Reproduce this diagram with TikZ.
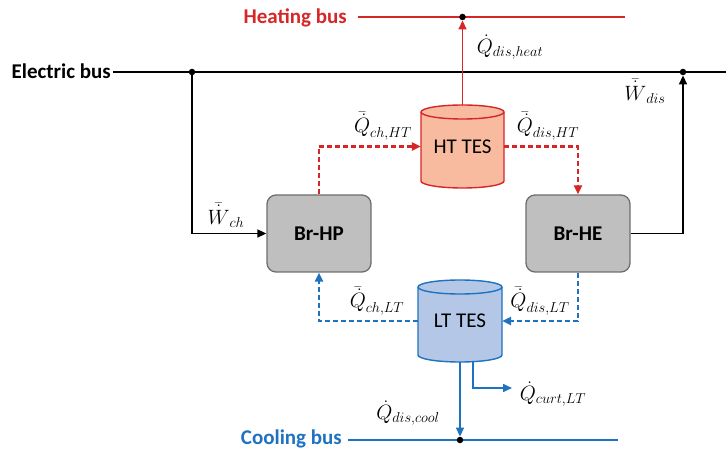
\documentclass[tikz,border=0pt]{standalone}
\usepackage{fontspec}
\setmainfont{Carlito}
\usetikzlibrary{arrows.meta}

\definecolor{heatred}{RGB}{214,39,40}
\definecolor{htfill}{RGB}{248,187,160}
\definecolor{coolblue}{RGB}{31,114,192}
\definecolor{ltfill}{RGB}{180,199,231}
\definecolor{unitfill}{RGB}{191,191,191}
\definecolor{unitedge}{RGB}{110,110,110}

\begin{document}
\begin{tikzpicture}[x=1pt,y=-1pt,
  busline/.style={line width=1.8pt},
  flow/.style={line width=1.6pt,-{Triangle[length=9pt,width=8pt]}},
  dflow/.style={line width=2.2pt,dash pattern=on 5pt off 3pt,-{Triangle[length=9pt,width=8pt]}},
  junction/.style={circle,fill=black,inner sep=0pt,minimum size=6.5pt},
  buslabel/.style={font=\bfseries\fontsize{21}{25}\selectfont,inner sep=0pt,anchor=base east},
  unit/.style={draw=unitedge,fill=unitfill,rounded corners=9pt,line width=1.3pt,
    minimum width=104pt,minimum height=77pt,inner sep=0pt,
    font=\bfseries\fontsize{21}{25}\selectfont},
  tanklabel/.style={inner sep=0pt,font=\fontsize{21}{25}\selectfont},
  qlabel/.style={inner sep=0pt,font=\fontsize{20}{24}\selectfont},
]
\useasboundingbox (0,0) rectangle (726,449);

% ---- buses ----
\node[buslabel,text=heatred] (heatlbl) at (347,24) {Heating bus};
\node[buslabel] (eleclbl) at (111,79) {Electric bus};
\node[buslabel,text=coolblue] (coollbl) at (342,444.5) {Cooling bus};

\coordinate (hstart) at (358,17);
\coordinate (hend) at (625,17);
\coordinate (estart) at (113,72);
\coordinate (eend) at (726,72);
\coordinate (cstart) at (348,440);
\coordinate (cend) at (618,440);

\draw[busline,heatred] (hstart) -- (hend);
\draw[busline,black] (estart) -- (eend);
\draw[busline,coolblue] (cstart) -- (cend);

\node[junction] (hdot) at (462.5,17) {};
\node[junction] (edotL) at (192,72) {};
\node[junction] (edotR) at (683,72) {};
\node[junction] (cdot) at (460,440) {};

% ---- heat pump and heat engine ----
\node[unit] (hp) at (319,233.5) {Br-HP};
\node[unit] (he) at (578,233.5) {Br-HE};

% ---- high-temperature storage tank ----
\filldraw[draw=heatred,fill=htfill,line width=1.4pt]
  (421,112) -- (421,181) arc[start angle=180,end angle=360,x radius=41.5pt,y radius=7pt]
  -- (504,112) arc[start angle=0,end angle=180,x radius=41.5pt,y radius=7pt] -- cycle;
\draw[heatred,line width=1.4pt]
  (421,112) arc[start angle=180,end angle=360,x radius=41.5pt,y radius=7pt];
\node[tanklabel,minimum width=83pt,minimum height=83pt] (ht) at (462.5,146.5) {HT TES};

% ---- low-temperature storage tank ----
\filldraw[draw=coolblue,fill=ltfill,line width=1.4pt]
  (418,287) -- (418,355) arc[start angle=180,end angle=360,x radius=42pt,y radius=7pt]
  -- (502,287) arc[start angle=0,end angle=180,x radius=42pt,y radius=7pt] -- cycle;
\draw[coolblue,line width=1.4pt]
  (418,287) arc[start angle=180,end angle=360,x radius=42pt,y radius=7pt];
\node[tanklabel,minimum width=84pt,minimum height=82pt] (lt) at (460,321) {LT TES};

% ---- electricity ----
\draw[flow,black] (edotL) |- (hp.west);
\draw[flow,black] (he.east) -| (edotR);

% ---- heat flows ----
\draw[flow,heatred] (ht.north) -- (hdot);
\draw[dflow,heatred] (hp.north) |- (ht.west);
\draw[dflow,heatred] (ht.east) -| (he.north);

% ---- cold flows ----
\draw[dflow,coolblue] (lt.west) -| (hp.south);
\draw[dflow,coolblue] (he.south) |- (lt.east);
\draw[flow,coolblue] (lt.south) -- (cdot);
\coordinate (curtend) at (512,388);
\draw[flow,coolblue] ([xshift=13pt,yshift=0.5pt]lt.south) |- (curtend);

% ---- flow labels ----
\node[qlabel] (qheat) at (510,47) {$\dot{Q}_{dis,heat}$};
\node[qlabel] (wdis) at (645,91) {$\bar{\dot{W}}_{dis}$};
\node[qlabel] (wch) at (226,215) {$\bar{\dot{W}}_{ch}$};
\node[qlabel] (qchht) at (383,126) {$\bar{\dot{Q}}_{ch,HT}$};
\node[qlabel] (qdisht) at (548,126) {$\bar{\dot{Q}}_{dis,HT}$};
\node[qlabel] (qchlt) at (377,301) {$\bar{\dot{Q}}_{ch,LT}$};
\node[qlabel] (qdislt) at (540,301) {$\bar{\dot{Q}}_{dis,LT}$};
\node[qlabel] (qcool) at (408,413) {$\dot{Q}_{dis,cool}$};
\node[qlabel] (qcurt) at (553,394) {$\dot{Q}_{curt,LT}$};
\end{tikzpicture}
\end{document}
